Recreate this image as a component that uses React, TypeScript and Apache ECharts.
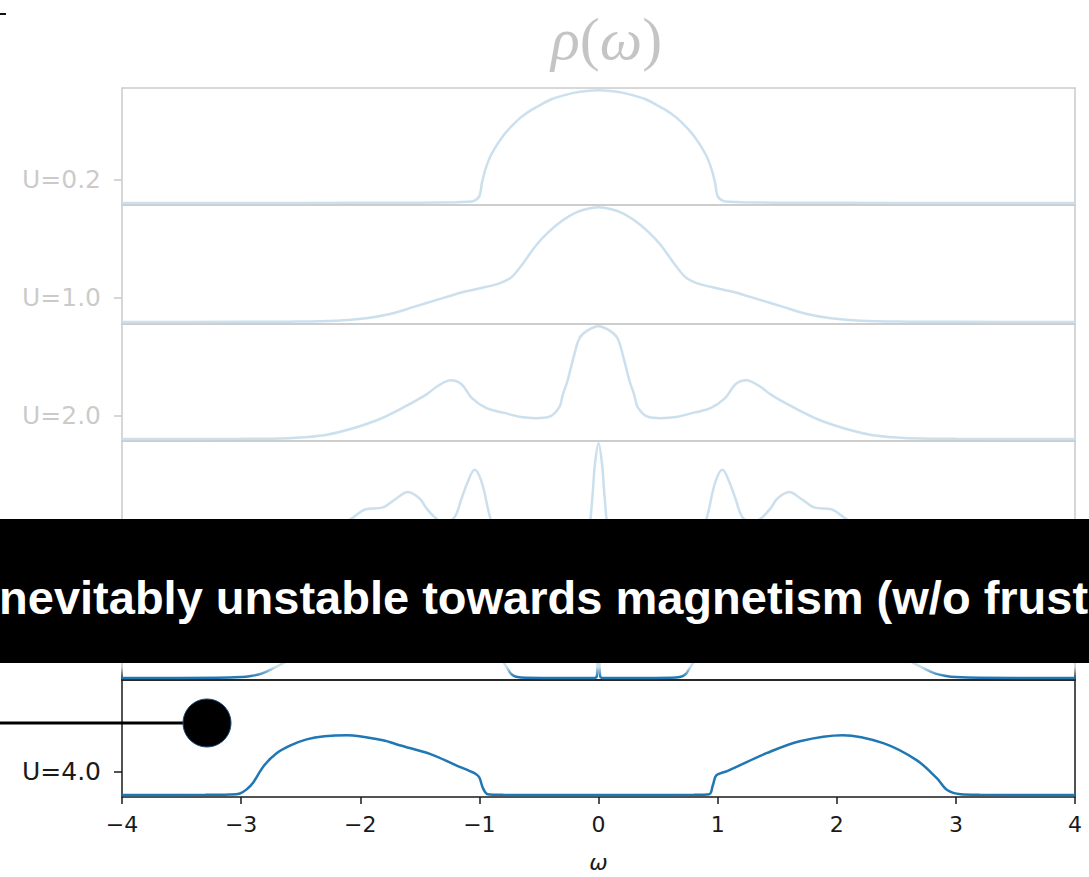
import React, { useEffect, useRef } from "react";
import * as echarts from "echarts";

// Interaction strengths shown on the stacked panels (top to bottom)
const uLabels = ["0.2", "1.0", "2.0", "2.5", "3.0", "4.0"];

// Spectral functions rho(omega), one pair of arrays per U
const omegaU02 = [-4, -3, -2, -1.5, -1.2, -1.1, -1.05, -1.0, -0.98, -0.95, -0.9, -0.8, -0.7, -0.6, -0.5, -0.4, -0.3, -0.2, -0.1, 0, 0.1, 0.2, 0.3, 0.4, 0.5, 0.6, 0.7, 0.8, 0.9, 0.95, 0.98, 1.0, 1.05, 1.1, 1.2, 1.5, 2, 3, 4];
const rhoU02 = [0.001, 0.001, 0.002, 0.003, 0.005, 0.008, 0.012, 0.04, 0.11, 0.19, 0.275, 0.38, 0.455, 0.51, 0.55, 0.585, 0.607, 0.624, 0.633, 0.637, 0.633, 0.624, 0.607, 0.585, 0.55, 0.51, 0.455, 0.38, 0.275, 0.19, 0.11, 0.04, 0.012, 0.008, 0.005, 0.003, 0.002, 0.001, 0.001];

const omegaU10 = [-4, -3, -2.6, -2.2, -1.95, -1.75, -1.55, -1.35, -1.15, -0.95, -0.83, -0.73, -0.63, -0.52, -0.42, -0.3, -0.2, -0.1, 0, 0.1, 0.2, 0.3, 0.42, 0.52, 0.63, 0.73, 0.83, 0.95, 1.15, 1.35, 1.55, 1.75, 1.95, 2.2, 2.6, 3, 4];
const rhoU10 = [0.001, 0.002, 0.003, 0.008, 0.022, 0.045, 0.085, 0.125, 0.165, 0.195, 0.215, 0.25, 0.33, 0.43, 0.5, 0.565, 0.605, 0.628, 0.637, 0.628, 0.605, 0.565, 0.5, 0.43, 0.33, 0.25, 0.215, 0.195, 0.165, 0.125, 0.085, 0.045, 0.022, 0.008, 0.003, 0.002, 0.001];

const omegaU20 = [-4, -3, -2.6, -2.47, -2.27, -2.06, -1.86, -1.65, -1.45, -1.35, -1.24, -1.15, -1.06, -0.94, -0.8, -0.65, -0.52, -0.42, -0.33, -0.3, -0.26, -0.21, -0.16, -0.1, 0, 0.1, 0.16, 0.21, 0.26, 0.3, 0.33, 0.42, 0.52, 0.65, 0.8, 0.94, 1.06, 1.15, 1.24, 1.35, 1.45, 1.65, 1.86, 2.06, 2.27, 2.47, 2.6, 3, 4];
const rhoU20 = [0.001, 0.002, 0.006, 0.011, 0.027, 0.062, 0.107, 0.175, 0.25, 0.3, 0.333, 0.31, 0.23, 0.175, 0.15, 0.125, 0.119, 0.125, 0.18, 0.25, 0.33, 0.46, 0.57, 0.61, 0.637, 0.61, 0.57, 0.46, 0.33, 0.25, 0.18, 0.125, 0.119, 0.125, 0.15, 0.175, 0.23, 0.31, 0.333, 0.3, 0.25, 0.175, 0.107, 0.062, 0.027, 0.011, 0.006, 0.002, 0.001];

const omegaU25 = [-4, -3, -2.8, -2.5, -2.3, -2.15, -2.06, -1.96, -1.81, -1.7, -1.6, -1.5, -1.45, -1.38, -1.3, -1.21, -1.15, -1.1, -1.04, -0.98, -0.91, -0.85, -0.75, -0.6, -0.4, -0.2, -0.12, -0.08, -0.05, -0.03, 0, 0.03, 0.05, 0.08, 0.12, 0.2, 0.4, 0.6, 0.75, 0.85, 0.91, 0.98, 1.04, 1.1, 1.15, 1.21, 1.3, 1.38, 1.45, 1.5, 1.6, 1.7, 1.81, 1.96, 2.06, 2.15, 2.3, 2.5, 2.8, 3, 4];
const rhoU25 = [0.001, 0.004, 0.02, 0.08, 0.14, 0.19, 0.226, 0.27, 0.282, 0.33, 0.367, 0.33, 0.282, 0.23, 0.2, 0.226, 0.33, 0.42, 0.49, 0.42, 0.226, 0.12, 0.06, 0.04, 0.035, 0.04, 0.07, 0.15, 0.35, 0.52, 0.637, 0.52, 0.35, 0.15, 0.07, 0.04, 0.035, 0.04, 0.06, 0.12, 0.226, 0.42, 0.49, 0.42, 0.33, 0.226, 0.2, 0.23, 0.282, 0.33, 0.367, 0.33, 0.282, 0.27, 0.226, 0.19, 0.14, 0.08, 0.02, 0.004, 0.001];

const omegaU30 = [-4, -3.2, -3.0, -2.92, -2.83, -2.73, -2.63, -2.5, -2.3, -2.1, -1.9, -1.7, -1.5, -1.3, -1.1, -0.95, -0.85, -0.8, -0.76, -0.73, -0.68, -0.6, -0.3, -0.03, -0.012, -0.006, 0, 0.006, 0.012, 0.03, 0.3, 0.6, 0.68, 0.73, 0.76, 0.8, 0.85, 0.95, 1.1, 1.3, 1.5, 1.7, 1.9, 2.1, 2.3, 2.5, 2.63, 2.73, 2.83, 2.92, 3.0, 3.2, 4];
const rhoU30 = [0.001, 0.002, 0.006, 0.012, 0.025, 0.055, 0.09, 0.15, 0.22, 0.27, 0.3, 0.31, 0.3, 0.28, 0.26, 0.22, 0.14, 0.09, 0.05, 0.022, 0.006, 0.002, 0.001, 0.001, 0.02, 0.2, 0.637, 0.2, 0.02, 0.001, 0.001, 0.002, 0.006, 0.022, 0.05, 0.09, 0.14, 0.22, 0.26, 0.28, 0.3, 0.31, 0.3, 0.27, 0.22, 0.15, 0.09, 0.055, 0.025, 0.012, 0.006, 0.002, 0.001];

const omegaU40 = [-4, -3.3, -3.1, -3.01, -2.95, -2.9, -2.81, -2.7, -2.59, -2.45, -2.3, -2.11, -1.81, -1.67, -1.41, -1.2, -1.08, -1.03, -1.0, -0.97, -0.93, -0.8, -0.4, 0, 0.4, 0.8, 0.93, 0.96, 0.99, 1.08, 1.41, 1.69, 2.05, 2.39, 2.67, 2.84, 2.93, 3.04, 3.2, 4];
const rhoU40 = [0.001, 0.002, 0.004, 0.01, 0.035, 0.07, 0.165, 0.238, 0.28, 0.315, 0.333, 0.339, 0.31, 0.282, 0.232, 0.17, 0.136, 0.12, 0.1, 0.04, 0.006, 0.002, 0.001, 0.001, 0.001, 0.002, 0.006, 0.056, 0.113, 0.136, 0.237, 0.305, 0.339, 0.294, 0.198, 0.096, 0.028, 0.006, 0.003, 0.001];

const omegaSets = [omegaU02, omegaU10, omegaU20, omegaU25, omegaU30, omegaU40];
const rhoSets = [rhoU02, rhoU10, rhoU20, rhoU25, rhoU30, rhoU40];

// Height on each panel where the U label tick sits
const labelLevel = 0.135;

const bannerText = "Inevitably unstable towards magnetism (w/o frustration)";

const W = 1089;
const H = 877;
const plotLeft = 122;
const plotWidth = 953;
const panelTops = [88, 205, 324, 441, 560, 680];
const panelHeights = [117, 119, 117, 119, 120, 117];
const lineColor = "#1f77b4";
const inkColor = "#1a1a1a";

export default function App() {
  const ref = useRef<HTMLDivElement | null>(null);

  useEffect(() => {
    if (!ref.current) return;
    const chart = echarts.init(ref.current, undefined, { renderer: "svg" });
    const last = uLabels.length - 1;

    const grids = panelTops.map((top, i) => ({
      left: plotLeft,
      width: plotWidth,
      top,
      height: panelHeights[i],
      show: true,
      borderColor: inkColor,
      borderWidth: 1.5,
      backgroundColor: "transparent",
    }));

    const xAxes = uLabels.map((_, i) => ({
      type: "value",
      gridIndex: i,
      min: -4,
      max: 4,
      interval: 1,
      axisLine: { show: false, onZero: false },
      splitLine: { show: false },
      axisTick: {
        show: i === last,
        inside: false,
        length: 7,
        lineStyle: { color: inkColor, width: 1.5 },
      },
      axisLabel: {
        show: i === last,
        fontSize: 22,
        fontFamily: "DejaVu Sans",
        color: inkColor,
        margin: 16,
        formatter: (v: number) => String(v).replace("-", "\u2212"),
      },
      name: i === last ? "ω" : "",
      nameLocation: "middle",
      nameGap: 54,
      nameTextStyle: {
        fontSize: 22,
        fontStyle: "italic",
        fontFamily: "DejaVu Sans",
        color: inkColor,
      },
    }));

    const yAxes = uLabels.map((u, i) => ({
      type: "value",
      gridIndex: i,
      min: -0.01,
      max: 0.65,
      axisLine: { show: false, onZero: false },
      splitLine: { show: false },
      axisTick: {
        show: true,
        inside: false,
        length: 8,
        customValues: [labelLevel],
        lineStyle: { color: inkColor, width: 1.5 },
      },
      axisLabel: {
        show: true,
        customValues: [labelLevel],
        fontSize: 25,
        fontFamily: "DejaVu Sans",
        color: inkColor,
        margin: 21,
        formatter: () => `U=${u}`,
      },
    }));

    const series = uLabels.map((_, i) => ({
      type: "line",
      xAxisIndex: i,
      yAxisIndex: i,
      data: omegaSets[i].map((w, k) => [w, rhoSets[i][k]]),
      showSymbol: false,
      smooth: 0.35,
      lineStyle: { color: lineColor, width: 2.5 },
    }));

    chart.setOption({
      animation: false,
      backgroundColor: "#ffffff",
      title: {
        text: "{i|ρ}{u|(}{i|ω}{u|)}",
        left: 546,
        top: 4,
        textStyle: {
          fontWeight: "normal",
          rich: {
            i: { fontFamily: "Liberation Serif", fontStyle: "italic", fontWeight: "normal", fontSize: 60, color: "#000" },
            u: { fontFamily: "Liberation Serif", fontWeight: "normal", fontSize: 60, color: "#000" },
          },
        },
      },
      grid: grids,
      xAxis: xAxes,
      yAxis: yAxes,
      series,
      graphic: [
        // white veil that dims every panel above the highlighted one
        {
          type: "rect",
          z: 100,
          shape: { x: 0, y: 0, width: W, height: 677 },
          style: {
            fill: {
              type: "linear",
              x: 0, y: 0, x2: 0, y2: 1,
              colorStops: [
                { offset: 0, color: "rgba(255,255,255,0.77)" },
                { offset: 0.985, color: "rgba(255,255,255,0.77)" },
                { offset: 1, color: "rgba(255,255,255,0)" },
              ],
            },
          },
          silent: true,
        },
        {
          type: "line",
          z: 120,
          shape: { x1: 0, y1: 14, x2: 6, y2: 14 },
          style: { stroke: "#111", lineWidth: 2 },
        },
        {
          type: "rect",
          z: 150,
          shape: { x: 0, y: 519, width: W, height: 144 },
          style: { fill: "#000" },
        },
        {
          type: "text",
          z: 160,
          x: -14,
          y: 597,
          style: {
            text: bannerText,
            fill: "#fff",
            font: "bold 47px 'Liberation Sans', Arial, sans-serif",
            textAlign: "left",
            textVerticalAlign: "middle",
          },
        },
        {
          type: "line",
          z: 150,
          shape: { x1: 0, y1: 723, x2: 185, y2: 723 },
          style: { stroke: "#000", lineWidth: 3 },
        },
        {
          type: "circle",
          z: 155,
          shape: { cx: 207, cy: 723, r: 24 },
          style: { fill: "#000", stroke: "#1f4e79", lineWidth: 1 },
        },
      ],
    });

    return () => chart.dispose();
  }, []);

  return (
    <div
      ref={ref}
      style={{ position: "fixed", left: 0, top: 0, width: W, height: H }}
    />
  );
}
